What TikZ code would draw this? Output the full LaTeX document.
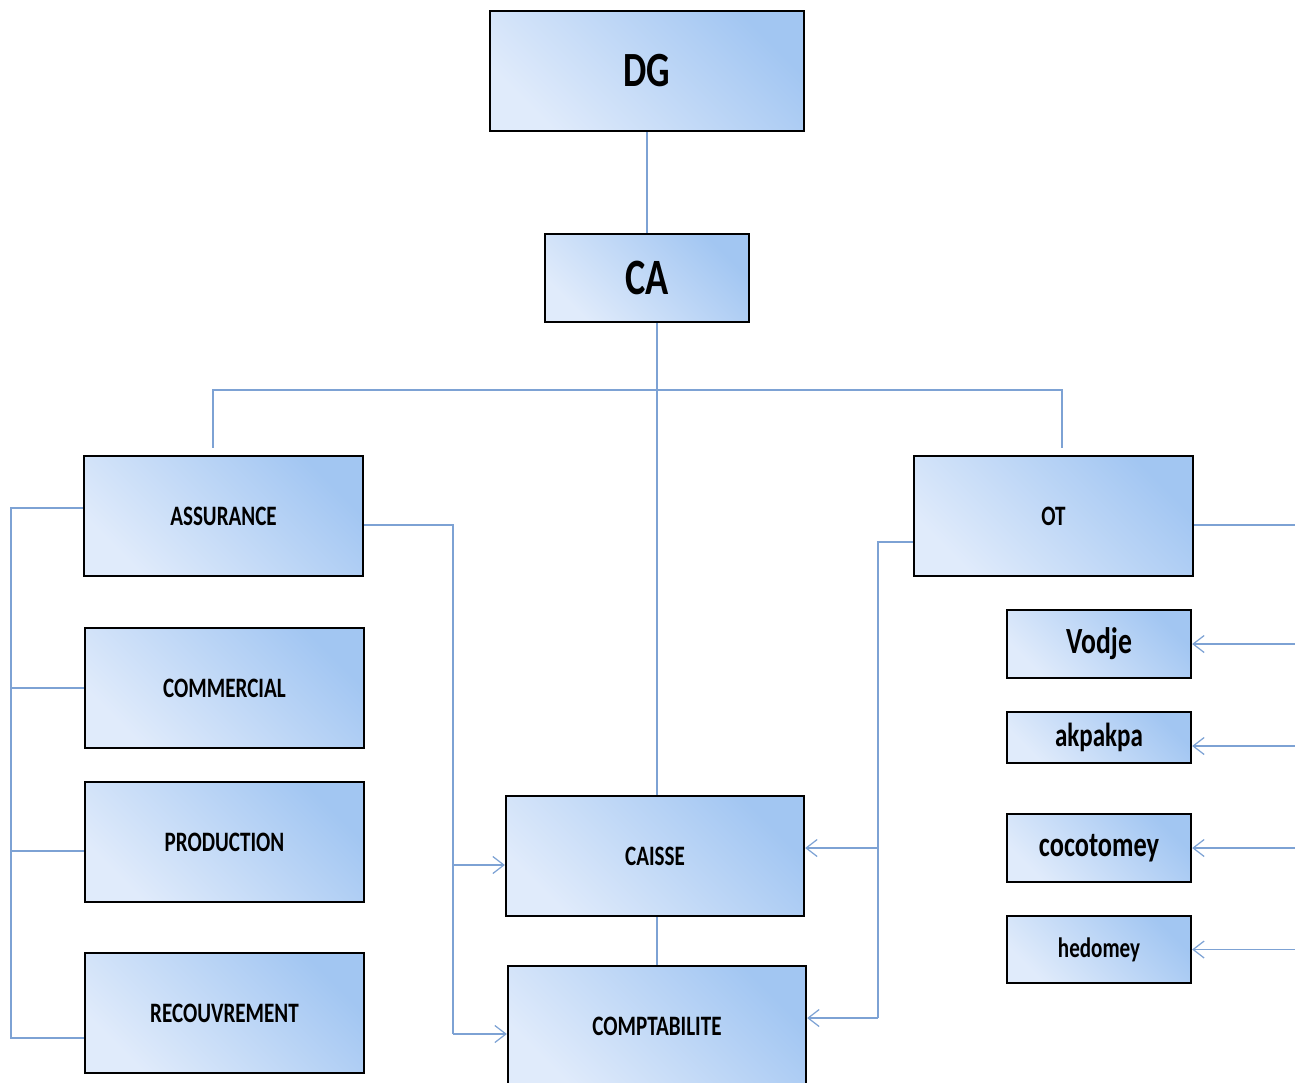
\documentclass[tikz,border=0pt]{standalone}
\usepackage{fontspec}
\newfontfamily\orgfont[FakeStretch=0.75]{Carlito}
\usepackage{tikz}
\usetikzlibrary{arrows.meta, positioning}
\definecolor{linkblue}{RGB}{125,162,212}
\definecolor{boxlight}{RGB}{224,235,251}
\definecolor{boxdark}{RGB}{162,198,242}

\tikzset{
    orgbox/.style={draw=black, line width=1.3pt, inner sep=0pt, top color=boxdark, bottom color=boxlight, shading angle=-45, font=\orgfont\bfseries},
    bigbox/.style={orgbox, minimum width=5.58cm, minimum height=2.4cm},
    sitebox/.style={orgbox, minimum width=3.68cm},
    link/.style={draw=linkblue, line width=0.7pt},
    linkarrow/.style={link, -{Straight Barb[length=2.2mm, width=3.4mm]}}
}

\begin{document}
\begin{tikzpicture}
    \useasboundingbox (0,0) rectangle (25.9,-21.64);
    % direction
    \node[orgbox, minimum width=6.28cm, minimum height=2.4cm, font=\orgfont\bfseries\fontsize{28}{30}\selectfont] (DG) at (12.94,-1.42) {DG};
    \node[orgbox, minimum width=4.08cm, minimum height=1.76cm, font=\orgfont\bfseries\fontsize{29}{31}\selectfont] (CA) at (12.94,-5.56) {CA};
    % services
    \node[bigbox, font=\orgfont\bfseries\fontsize{16}{18}\selectfont] (ASSURANCE) at (4.47,-10.32) {ASSURANCE};
    \node[bigbox, font=\orgfont\bfseries\fontsize{16}{18}\selectfont] (COMMERCIAL) at (4.49,-13.76) {COMMERCIAL};
    \node[bigbox, font=\orgfont\bfseries\fontsize{16}{18}\selectfont] (PRODUCTION) at (4.49,-16.84) {PRODUCTION};
    \node[bigbox, font=\orgfont\bfseries\fontsize{16}{18}\selectfont] (RECOUVREMENT) at (4.49,-20.26) {RECOUVREMENT};
    \node[bigbox, minimum width=5.96cm, font=\orgfont\bfseries\fontsize{16}{18}\selectfont] (CAISSE) at (13.10,-17.12) {CAISSE};
    \node[bigbox, minimum width=5.96cm, font=\orgfont\bfseries\fontsize{16}{18}\selectfont] (COMPTABILITE) at (13.14,-20.52) {COMPTABILITE};
    \node[bigbox, font=\orgfont\bfseries\fontsize{16}{18}\selectfont] (OT) at (21.07,-10.32) {OT};
    % agences
    \node[sitebox, minimum height=1.36cm, font=\orgfont\bfseries\fontsize{21}{23}\selectfont] (Vodje) at (21.98,-12.88) {\raisebox{-0.6mm}{Vodje}};
    \node[sitebox, minimum height=1.02cm, font=\orgfont\bfseries\fontsize{19}{21}\selectfont] (akpakpa) at (21.98,-14.75) {akpakpa};
    \node[sitebox, minimum height=1.36cm, font=\orgfont\bfseries\fontsize{20}{22}\selectfont] (cocotomey) at (21.98,-16.96) {cocotomey};
    \node[sitebox, minimum height=1.34cm, font=\orgfont\bfseries\fontsize{16}{18}\selectfont] (hedomey) at (21.98,-18.99) {hedomey};

    \coordinate (busL) at (4.26,-7.8);
    \coordinate (busR) at (21.24,-7.8);
    \coordinate (cline) at (13.14,0);
    \coordinate (lbus) at (0.22,0);
    \coordinate (abus) at (9.06,0);
    \coordinate (obus) at (17.56,0);
    \coordinate (rside) at (26.4,0);

    \draw[link] (DG) -- (CA);
    \draw[link] (CA.south -| cline) -- (CAISSE.north -| cline);
    \draw[link] ([yshift=1.4mm]ASSURANCE.north -| busL) -- (busL) -- (busR) -- ([yshift=1.4mm]OT.north -| busR);
    \draw[link] (CAISSE.south -| cline) -- (COMPTABILITE.north -| cline);

    % left column
    \draw[link] ([yshift=0.16cm]ASSURANCE.west) -| ([yshift=-0.5cm]RECOUVREMENT.west -| lbus) -- ([yshift=-0.5cm]RECOUVREMENT.west);
    \draw[link] (COMMERCIAL.west) -- (COMMERCIAL.west -| lbus);
    \draw[link] ([yshift=-0.18cm]PRODUCTION.west) -- ([yshift=-0.18cm]PRODUCTION.west -| lbus);

    % vers caisse et comptabilite
    \draw[link] ([yshift=-0.18cm]ASSURANCE.east) -| ([yshift=-0.16cm]COMPTABILITE.west -| abus);
    \draw[linkarrow] ([yshift=-0.18cm]CAISSE.west -| abus) -- ([yshift=-0.18cm]CAISSE.west);
    \draw[linkarrow] ([yshift=-0.16cm]COMPTABILITE.west -| abus) -- ([yshift=-0.16cm]COMPTABILITE.west);
    \draw[link] ([yshift=-0.52cm]OT.west) -| ([yshift=0.16cm]COMPTABILITE.east -| obus);
    \draw[linkarrow] ([yshift=0.16cm]CAISSE.east -| obus) -- ([yshift=0.16cm]CAISSE.east);
    \draw[linkarrow] ([yshift=0.16cm]COMPTABILITE.east -| obus) -- ([yshift=0.16cm]COMPTABILITE.east);

    % agences
    \draw[link] ([yshift=-0.18cm]OT.east) -- ([yshift=-0.18cm]OT.east -| rside);
    \draw[linkarrow] (Vodje.east -| rside) -- (Vodje.east);
    \draw[linkarrow] ([yshift=-0.17cm]akpakpa.east -| rside) -- ([yshift=-0.17cm]akpakpa.east);
    \draw[linkarrow] (cocotomey.east -| rside) -- (cocotomey.east);
    \draw[linkarrow] (hedomey.east -| rside) -- (hedomey.east);
\end{tikzpicture}
\end{document}
